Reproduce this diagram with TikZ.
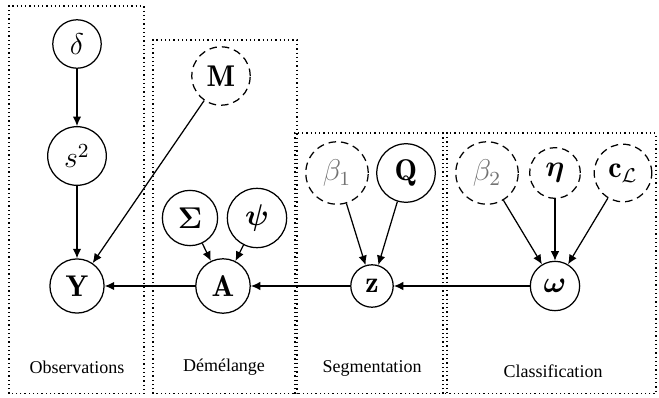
\documentclass[tikz,border=0pt]{standalone}
\usepackage{amssymb}
\usepackage{amsmath}
\usepackage{fontspec}
\newfontfamily\etiqfont{Liberation Serif}
\usepackage{tikz}
\usetikzlibrary{arrows.meta}

\tikzset{
  var/.style={circle,draw,line width=0.5pt,font=\fontsize{12}{14}\selectfont},
  hyper/.style={var,dash pattern=on 3pt off 2pt},
  bloc/.style={line width=0.5pt,dash pattern=on 0.5pt off 1.2pt},
  lien/.style={line width=0.5pt,-{Latex[length=3.8pt,width=3.4pt]}},
  etiq/.style={font=\etiqfont\fontsize{7.2}{9}\selectfont},
}

\begin{document}
\begin{tikzpicture}[x=4pt,y=4pt]

  \useasboundingbox (0,0) rectangle (65.9,39.7);

  % blocs
  \draw[bloc] (0.9,0.35) rectangle (14.4,39.1); %OBSERVATIONS
  \draw[bloc] (15.3,0.35) rectangle (29.7,35.7); %DEMELANGE
  \draw[bloc] (29.5,0.35) rectangle (44.7,26.4); %SEGMENTATION
  \draw[bloc] (44.3,0.35) rectangle (65.6,26.4); %CLASSIFICATION

  \node[etiq] (tobs) at (7.7,3.0) {Observations};
  \node[etiq] (tdem) at (22.4,3.0) {Démélange};
  \node[etiq] (tseg) at (37.2,2.9) {Segmentation};
  \node[etiq] (tcla) at (55.3,2.6) {Classification};

  % variables
  \node[var] (delta) at (7.7,35.3) {$\delta$};
  \node[var] (s2) at (7.7,24.1) {$s^2$};
  \node[var] (Y) at (7.7,11.1) {$\mathbf{Y}$};

  \node[hyper] (M) at (22.1,32.1) {$\mathbf{M}$};
  \node[var] (Sigma) at (19.0,17.9) {$\boldsymbol{\Sigma}$};
  \node[var] (psi) at (25.7,17.9) {$\boldsymbol{\psi}$};
  \node[var] (A) at (22.3,11.1) {$\mathbf{A}$};

  \node[hyper,text=black!55] (beta1) at (33.7,22.4) {$\beta_1$};
  \node[var] (Q) at (40.6,22.4) {$\mathbf{Q}$};
  \node[var] (z) at (37.2,11.1) {$\mathbf{z}$};

  \node[hyper,text=black!55] (beta2) at (48.7,22.4) {$\beta_2$};
  \node[hyper] (eta) at (55.5,22.4) {$\boldsymbol{\eta}$};
  \node[hyper] (cL) at (62.3,22.4) {$\mathbf{c}_{\mathcal{L}}$};
  \node[var] (omega) at (55.5,11.1) {$\boldsymbol{\omega}$};

  % dependances
  \draw[lien] (delta) -- (s2);
  \draw[lien] (s2) -- (Y);
  \draw[lien] (M) -- (Y);
  \draw[lien] (A) -- (Y);
  \draw[lien] (Sigma) -- (A);
  \draw[lien] (psi) -- (A);
  \draw[lien] (z) -- (A);
  \draw[lien] (beta1) -- (z);
  \draw[lien] (Q) -- (z);
  \draw[lien] (omega) -- (z);
  \draw[lien] (beta2) -- (omega);
  \draw[lien] (eta) -- (omega);
  \draw[lien] (cL) -- (omega);

\end{tikzpicture}
\end{document}
